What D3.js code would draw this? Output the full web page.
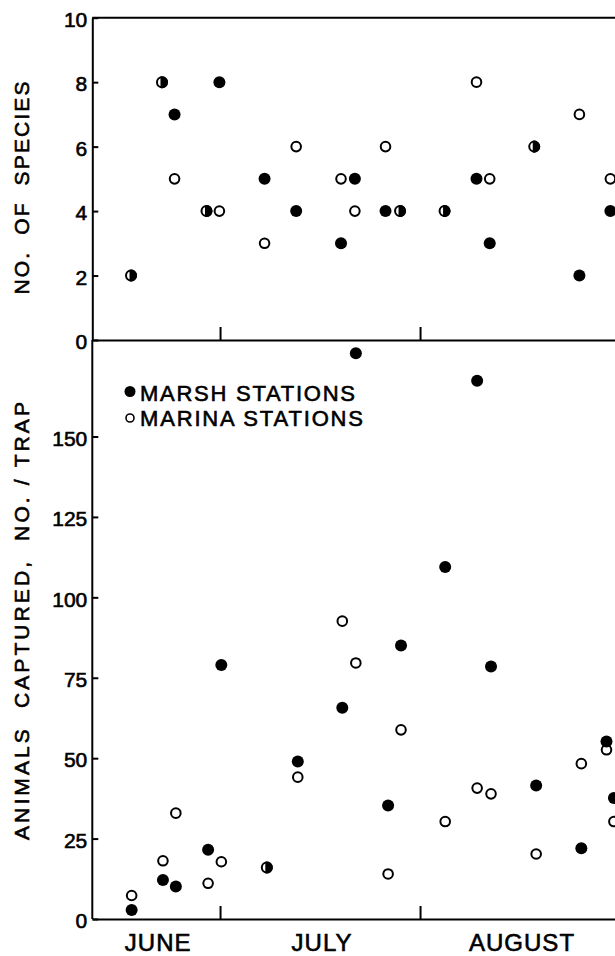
<!DOCTYPE html>
<html>
<head>
<meta charset="utf-8">
<script src="https://cdn.jsdelivr.net/npm/d3@7/dist/d3.min.js"></script>
<style>
  html, body { margin: 0; padding: 0; background: #fff; }
  svg { display: block; }
  text { font-family: "Liberation Sans", Arial, Helvetica, sans-serif; fill: #000; stroke: #000; stroke-width: 0.6px; }
</style>
</head>
<body>
<svg id="chart" width="615" height="956"></svg>
<script>
// ---- data (days counted from June 1 = 0) ----
const speciesDays   = [16.2, 21.0, 22.95, 27.9, 29.9, 36.9, 41.8, 48.75, 50.9, 55.65, 57.9, 64.8, 69.75, 71.8, 78.7, 85.7, 90.5];
const speciesMarsh  = [2, 8, 7, 4, 8, 5, 4, 3, 5, 4, 4, 4, 5, 3, 6, 2, 4];
const speciesMarina = [2, 8, 5, 4, 4, 3, 6, 5, 4, 6, 4, 4, 8, 5, 6, 7, 5];

const captureDays   = [16.3, 21.15, 23.15, 28.15, 30.2, 37.25, 42.05, 48.95, 51.05, 56.05, 58.05, 64.9, 69.85, 72.0, 79.0, 86.0, 89.9, 91.05];
const captureMarsh  = [2.8, 12.1, 10.1, 21.5, 79.0, 16, 49.0, 65.7, 175.9, 35.3, 85.0, 109.4, 167.3, 78.5, 41.5, 22.0, 55.2, 37.6];
const captureMarina = [7.3, 18.1, 32.9, 11.1, 17.8, 16, 44.1, 92.6, 79.6, 14.0, 58.8, 30.3, 40.7, 38.9, 20.2, 48.3, 52.6, 30.3];

const speciesTicks = [0, 2, 4, 6, 8, 10];
const captureTicks = [0, 25, 50, 75, 100, 125, 150];
const months       = ["JUNE", "JULY", "AUGUST"];
const monthStarts  = [0, 30, 61];
const monthEnds    = [30, 61, 92];
const legendLabels = ["MARSH STATIONS", "MARINA STATIONS"];
const speciesTitle = "NO.\u00A0\u00A0OF\u00A0\u00A0SPECIES";
const captureTitle = "ANIMALS\u00A0\u00A0CAPTURED,\u00A0\u00A0NO.\u00A0/\u00A0TRAP";

// ---- layout ----
const svg = d3.select("#chart");
const left = 92.3, right = 639.4;
const topY0 = 340, topY1 = 17.7;
const botY0 = 919, botY1 = 340;

const x = d3.scaleLinear().domain([10.2, 95]).range([left, right]);
const ySp = d3.scaleLinear().domain([0, 10]).range([topY0, topY1]);
const yCap = d3.scaleLinear().domain([0, 180]).range([botY0, botY1]);

function styleAxis(g) {
  g.selectAll("path.domain").attr("stroke", "#000").attr("stroke-width", 2);
  g.selectAll(".tick line").attr("stroke", "#000").attr("stroke-width", 2);
  g.selectAll(".tick text").attr("font-size", 21)
    .attr("font-family", '"Liberation Sans", Arial, sans-serif')
    .attr("fill", "#000").attr("dy", "0.42em");
}

// top border line
svg.append("line").attr("x1", left).attr("x2", right)
  .attr("y1", topY1).attr("y2", topY1).attr("stroke", "#000").attr("stroke-width", 2);

// y axes
svg.append("g").attr("transform", `translate(${left},0)`)
  .call(d3.axisLeft(ySp).tickValues(speciesTicks).tickSize(-6).tickSizeOuter(0).tickPadding(5))
  .call(styleAxis);
svg.append("g").attr("transform", `translate(${left},0)`)
  .call(d3.axisLeft(yCap).tickValues(captureTicks).tickSize(-6).tickSizeOuter(0).tickPadding(5))
  .call(g => g.select("path.domain").attr("d", `M0,${botY0}V${botY1}`))
  .call(styleAxis);

// x axes (month boundary ticks pointing inward)
[topY0, botY0].forEach(yy => {
  svg.append("g").attr("transform", `translate(0,${yy})`)
    .call(d3.axisBottom(x).tickValues(monthEnds).tickSize(-13).tickSizeOuter(0).tickFormat(""))
    .call(styleAxis);
});

// month labels
svg.append("g").selectAll("text").data(months).join("text")
  .attr("x", (d, i) => (x(Math.max(monthStarts[i], x.domain()[0])) + x(monthEnds[i])) / 2 + 2)
  .attr("y", 951)
  .attr("text-anchor", "middle")
  .attr("font-size", 24)
  .attr("letter-spacing", 1)
  .text(d => d);

// axis titles
svg.append("text")
  .attr("transform", `translate(28.5,188) rotate(-90)`)
  .attr("text-anchor", "middle").attr("font-size", 21)
  .attr("textLength", 213).attr("lengthAdjust", "spacing")
  .text(speciesTitle);
svg.append("text")
  .attr("transform", `translate(28.5,621) rotate(-90)`)
  .attr("text-anchor", "middle").attr("font-size", 21)
  .attr("textLength", 438).attr("lengthAdjust", "spacing")
  .text(captureTitle);

// markers
const R_FILL = 6, R_OPEN = 4.8, SW_OPEN = 2;
function halfPath(r, a) {
  const h = Math.sqrt(r * r - a * a);
  return `M${-a},${-h}A${r},${r} 0 1 1 ${-a},${h}Z`;
}
function drawPanel(days, marsh, marina, y) {
  const g = svg.append("g");
  const rows = days.map((d, i) => ({ d, m: marsh[i], o: marina[i] }));
  const same = rows.filter(r => r.m === r.o);
  const diff = rows.filter(r => r.m !== r.o);
  g.selectAll("circle.open").data(diff).join("circle").attr("class", "open")
    .attr("cx", r => x(r.d)).attr("cy", r => y(r.o)).attr("r", R_OPEN)
    .attr("fill", "#fff").attr("stroke", "#000").attr("stroke-width", SW_OPEN);
  g.selectAll("circle.fill").data(diff).join("circle").attr("class", "fill")
    .attr("cx", r => x(r.d)).attr("cy", r => y(r.m)).attr("r", R_FILL)
    .attr("fill", "#000");
  const h = g.selectAll("g.half").data(same).join("g").attr("class", "half")
    .attr("transform", r => `translate(${x(r.d)},${y(r.m)})`);
  h.append("circle").attr("r", 5).attr("fill", "#fff").attr("stroke", "#000").attr("stroke-width", 2);
  h.append("path").attr("d", halfPath(6, 1.5)).attr("fill", "#000");
}
drawPanel(speciesDays, speciesMarsh, speciesMarina, ySp);
drawPanel(captureDays, captureMarsh, captureMarina, yCap);

// legend
const lg = svg.append("g");
lg.append("circle").attr("cx", 130).attr("cy", 391.5).attr("r", 5.5).attr("fill", "#000");
lg.append("circle").attr("cx", 130).attr("cy", 418).attr("r", 4).attr("fill", "#fff")
  .attr("stroke", "#000").attr("stroke-width", 1.6);
lg.selectAll("text").data(legendLabels).join("text")
  .attr("x", 140).attr("y", (d, i) => i === 0 ? 400.5 : 426)
  .attr("font-size", 22)
  .attr("textLength", (d, i) => i === 0 ? 215 : 223).attr("lengthAdjust", "spacing")
  .text(d => d);
</script>
</body>
</html>
